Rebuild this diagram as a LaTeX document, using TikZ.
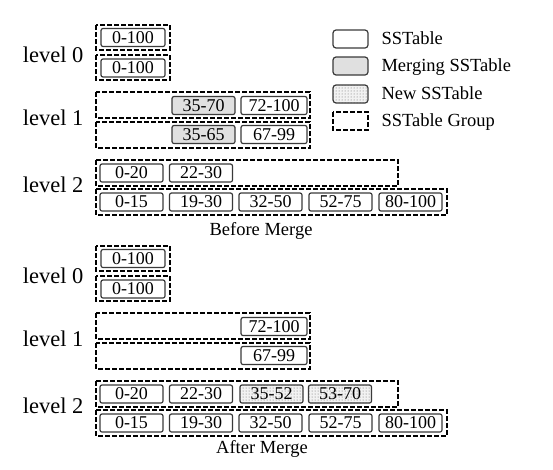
\documentclass[tikz,border=0pt]{standalone}
\usepackage{fontspec}
\setmainfont{Liberation Serif}
\usepackage{tikz}
\usetikzlibrary{patterns}
\definecolor{sedge}{HTML}{3A3A3A}
\definecolor{smerge}{HTML}{E0E0E0}

\begin{document}
\begin{tikzpicture}[x=1pt, y=-1pt, font=\fontsize{18}{20}\selectfont,
  sst/.style={draw=sedge, line width=1.2pt, rounded corners=2pt, minimum width=63pt, minimum height=18pt, inner sep=0pt},
  mrg/.style={sst, fill=smerge},
  newsst/.style={sst, preaction={fill=gray!10}, pattern=dots, pattern color=black!60},
  grp/.style={draw, line width=1.7pt, dash pattern=on 5pt off 2pt},
  lvl/.style={anchor=east, font=\fontsize{22.5}{24}\selectfont},
  phase/.style={anchor=base, font=\fontsize{18.5}{20}\selectfont},
  key/.style={anchor=base west, font=\fontsize{18.5}{20}\selectfont}]
\useasboundingbox (0,0) rectangle (553,469);
% ---------- before merge ----------
\begin{scope}
% level 0
\draw[grp] (96,25) rectangle (170,50);
\draw[grp] (96,55) rectangle (170,80);
\node[sst, minimum width=64pt] (b00) at (133,37.5) {0-100};
\node[sst, minimum width=64pt] (b01) at (133,68) {0-100};
\node[lvl] (bl0) at (87,55) {level 0};
% level 1
\draw[grp] (96,92) rectangle (310,118);
\draw[grp] (96,122) rectangle (310,148);
\node[mrg] (b10) at (203.5,105.5) {35-70};
\node[sst, minimum width=66pt] (b11) at (274,105.5) {72-100};
\node[mrg] (b12) at (203.5,134.5) {35-65};
\node[sst, minimum width=66pt] (b13) at (274,134.5) {67-99};
\node[lvl] (bl1) at (87,118) {level 1};
% level 2
\draw[grp] (96,160) rectangle (398,186);
\draw[grp] (96,189) rectangle (447,215);
\foreach \x/\lbl [count=\i] in {131.5/0-20, 201/22-30}
  \node[sst] (b2a\i) at (\x,173) {\lbl};
\foreach \x/\lbl [count=\i] in {131.5/0-15, 201/19-30, 270.5/32-50, 340.5/52-75, 410.5/80-100}
  \node[sst] (b2b\i) at (\x,202) {\lbl};
\node[lvl] (bl2) at (87,185) {level 2};
\node[phase] (bcap) at (261,235) {Before Merge};
\end{scope}
% ---------- after merge ----------
\begin{scope}[shift={(0,221)}]
% level 0
\draw[grp] (96,25) rectangle (170,50);
\draw[grp] (96,55) rectangle (170,80);
\node[sst, minimum width=64pt] (a00) at (133,37.5) {0-100};
\node[sst, minimum width=64pt] (a01) at (133,68) {0-100};
\node[lvl] (al0) at (87,55) {level 0};
% level 1
\draw[grp] (96,92) rectangle (310,118);
\draw[grp] (96,122) rectangle (310,148);
\node[sst, minimum width=66pt] (a11) at (274,105.5) {72-100};
\node[sst, minimum width=66pt] (a13) at (274,134.5) {67-99};
\node[lvl] (al1) at (87,118) {level 1};
% level 2
\draw[grp] (96,160) rectangle (398,186);
\draw[grp] (96,189) rectangle (447,215);
\foreach \x/\lbl [count=\i] in {131.5/0-20, 201/22-30}
  \node[sst] (a2a\i) at (\x,173) {\lbl};
\foreach \x/\lbl [count=\i] in {271.5/35-52, 340/53-70}
  \node[newsst] (a2n\i) at (\x,173) {\lbl};
\foreach \x/\lbl [count=\i] in {131.5/0-15, 201/19-30, 270.5/32-50, 340.5/52-75, 410.5/80-100}
  \node[sst] (a2b\i) at (\x,202) {\lbl};
\node[lvl] (al2) at (87,185) {level 2};
\node[phase] (acap) at (262,232) {After Merge};
\end{scope}
% ---------- legend ----------
\node[sst, minimum width=35pt, rounded corners=3pt] (kold) at (350.5,39) {};
\node[key] (tkold) at (378,44.5) {SSTable};
\node[mrg, minimum width=35pt, rounded corners=3pt] (kmrg) at (350.5,66) {};
\node[key] (tkmrg) at (378,71.5) {Merging SSTable};
\node[newsst, minimum width=35pt, rounded corners=3pt] (knew) at (350.5,94) {};
\node[key] (tknew) at (378,99.5) {New SSTable};
\draw[grp] (333,112) rectangle (368,130);
\node[key] (tkgrp) at (378,126.5) {SSTable Group};
\end{tikzpicture}
\end{document}
